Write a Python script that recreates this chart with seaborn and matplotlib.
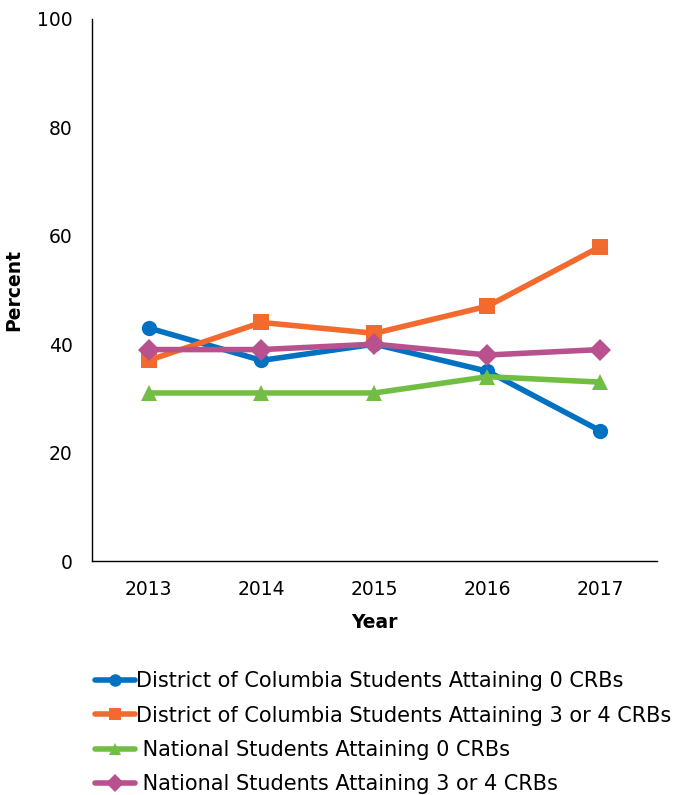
import matplotlib
matplotlib.use("Agg")
import matplotlib.pyplot as plt
import seaborn as sns
import pandas as pd

years = ["2013", "2014", "2015", "2016", "2017"]
dc_zero = [43, 37, 40, 35, 24]
dc_three_four = [37, 44, 42, 47, 58]
nat_zero = [31, 31, 31, 34, 33]
nat_three_four = [39, 39, 40, 38, 39]

series_names = [
    "District of Columbia Students Attaining 0 CRBs",
    "District of Columbia Students Attaining 3 or 4 CRBs",
    " National Students Attaining 0 CRBs",
    " National Students Attaining 3 or 4 CRBs",
]
series_values = [dc_zero, dc_three_four, nat_zero, nat_three_four]
colors = ["#0072C1", "#F26A2E", "#72BE44", "#B9518E"]
markers = ["o", "s", "^", "D"]

df = pd.DataFrame(
    [(name, y, v) for name, vals in zip(series_names, series_values) for y, v in zip(years, vals)],
    columns=["Series", "Year", "Percent"],
)

sns.set_theme(style="white")
plt.rcParams["font.family"] = ["DejaVu Sans"]
plt.rcParams["text.color"] = "black"
plt.rcParams["axes.labelcolor"] = "black"

fig = plt.figure(figsize=(6.78, 7.95), dpi=100)
ax = fig.add_axes([0.1357, 0.2943, 0.8333, 0.682])

sns.lineplot(
    data=df, x="Year", y="Percent", hue="Series", style="Series",
    palette=dict(zip(series_names, colors)),
    markers=dict(zip(series_names, markers)),
    dashes=False, linewidth=4, markersize=11, markeredgewidth=0,
    ax=ax, sort=False,
)

ax.set_ylim(0, 100)
ax.set_xlim(-0.5, 4.5)
ax.set_yticks([0, 20, 40, 60, 80, 100])
ax.tick_params(axis="y", labelsize=13.5, length=0, pad=14, colors="black")
ax.tick_params(axis="x", labelsize=13.5, length=0, pad=14, colors="black")
ax.set_xlabel("Year", fontsize=13.5, fontweight="bold", labelpad=10)
ax.set_ylabel("Percent", fontsize=13.5, fontweight="bold", labelpad=10)
for s in ["top", "right"]:
    ax.spines[s].set_visible(False)
for s in ["left", "bottom"]:
    ax.spines[s].set_color("black")
    ax.spines[s].set_linewidth(1)

handles, labels = ax.get_legend_handles_labels()
for h in handles:
    h.set_markersize(9)
ax.legend_.remove()
fig.legend(
    handles, labels, loc="upper left", bbox_to_anchor=(0.128, 0.166),
    frameon=False, fontsize=15, handlelength=1.9, handletextpad=0.08,
    labelspacing=0.69, borderaxespad=0,
)

fig.savefig("out.png", dpi=100)
